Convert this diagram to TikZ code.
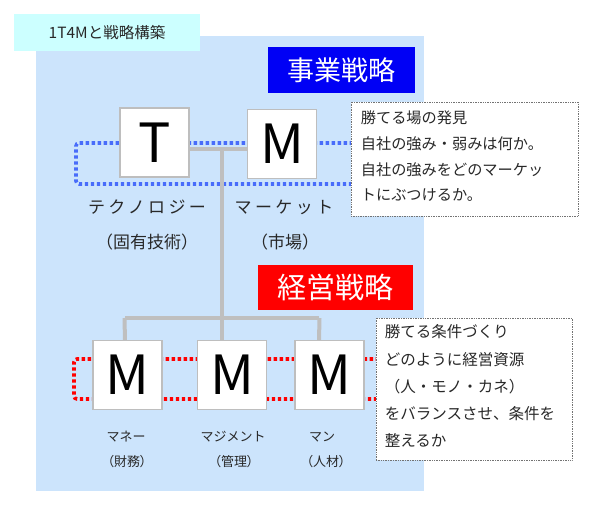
\documentclass[tikz,border=0pt]{standalone}
\usepackage{fontspec}
\setmainfont{Noto Sans CJK JP}
\definecolor{bgblue}{RGB}{204,228,252}
\definecolor{tagcyan}{RGB}{204,255,255}
\definecolor{hdblue}{RGB}{0,0,245}
\definecolor{hdred}{RGB}{255,0,0}
\definecolor{dotblue}{RGB}{72,108,250}
\definecolor{dotred}{RGB}{255,0,0}
\definecolor{conngray}{RGB}{191,191,191}
\definecolor{boxgray}{RGB}{190,190,190}
\definecolor{txtgray}{RGB}{40,40,40}
\tikzset{
  letterbox/.style={draw=boxgray, line width=1.2pt, fill=white, minimum width=69pt, minimum height=69pt, inner sep=0pt, font=\fontsize{54}{54}\selectfont},
  header/.style={inner sep=0pt, text=white, font=\fontsize{27}{27}\selectfont},
  loopline/.style={line width=3.6pt, dash pattern=on 3.3pt off 2.7pt, rounded corners=3pt},
  conn/.style={draw=conngray, line width=4pt},
  notebox/.style={draw=black!55, line width=0.7pt, densely dotted, fill=white, inner sep=0pt},
  notetext/.style={anchor=north west, align=left, inner sep=0pt, text=txtgray},
  biglabel/.style={text=txtgray, inner sep=0pt, font=\fontsize{17}{17}\selectfont},
  smalllabel/.style={text=txtgray, inner sep=0pt, font=\fontsize{13}{13}\selectfont}
}
\begin{document}
\begin{tikzpicture}[x=1pt,y=-1pt]
\useasboundingbox (0,0) rectangle (597,511);
% background
\fill[bgblue] (36,36) rectangle (424,491);
\node[fill=tagcyan, minimum width=186pt, minimum height=37pt, inner sep=0pt, text=txtgray, font=\fontsize{15.5}{15.5}\selectfont] (tag) at (107,32.5) {1T4Mと戦略構築};
% headers
\node[header, fill=hdblue, minimum width=147pt, minimum height=46pt] (biz) at (341.5,70) {事業戦略};
\node[header, fill=hdred, minimum width=155pt, minimum height=45pt, font=\fontsize{29}{29}\selectfont] (mgmt) at (335.5,287.5) {経営戦略};
% coordinates for loops
\coordinate (bl1) at (365,143);
\coordinate (bl2) at (76,143);
\coordinate (bl3) at (76,184);
\coordinate (bl4) at (365,184);
\coordinate (rl1) at (385,359);
\coordinate (rl2) at (74,359);
\coordinate (rl3) at (74,399);
\coordinate (rl4) at (385,399);
\draw[loopline, draw=dotblue] (bl1) -- (bl2) -- (bl3) -- (bl4);
\draw[loopline, draw=dotred] (rl1) -- (rl2) -- (rl3) -- (rl4);
% connectors
\coordinate (j1) at (222,149);
\coordinate (j2) at (222,318);
\coordinate (jl) at (125,318);
\coordinate (jr) at (319,318);
\draw[conn] (189,149) -- (247,149);
\draw[conn] (j1) -- (j2);
\draw[conn] (jl) -- (jr);
\draw[conn] ([xshift=-0.5pt]jl) -- (125,341);
\draw[conn] (j2) -- (222,341);
\draw[conn] ([xshift=0.5pt]jr) -- (319,341);
% letter boxes
\node[letterbox] (T) at (154.5,142.5) {T};
\node[letterbox] (Mk) at (282,144) {M};
\node[letterbox] (M1) at (127.5,375) {M};
\node[letterbox] (M2) at (232,375) {M};
\node[letterbox] (M3) at (329.5,375) {M};
% labels
\node[biglabel] (lt1) at (147,207) {\addfontfeature{LetterSpace=20}テクノロジー};
\node[biglabel] (lt2) at (147,242) {（固有技術）};
\node[biglabel] (lm1) at (284,207) {\addfontfeature{LetterSpace=20}マーケット};
\node[biglabel] (lm2) at (285,242) {（市場）};
\node[smalllabel] (lb1) at (126,437) {マネー};
\node[smalllabel] (lb2) at (127,462) {\addfontfeature{RawFeature=+palt}（財務）};
\node[smalllabel] (lb3) at (233,437) {マジメント};
\node[smalllabel] (lb4) at (234,462) {\addfontfeature{RawFeature=+palt}（管理）};
\node[smalllabel] (lb5) at (322,437) {マン};
\node[smalllabel] (lb6) at (326,462) {\addfontfeature{RawFeature=+palt}（人材）};
% note boxes
\node[notebox, minimum width=227pt, minimum height=114pt] (n1) at (464.5,159) {};
\node[notetext, font=\fontsize{15.2}{25.7}\selectfont] (n1t) at ([xshift=10pt,yshift=-9pt]n1.north west) {勝てる場の発見\\自社の強み・弱みは何か。\\自社の強みをどのマーケッ\\トにぶつけるか。};
\node[notebox, minimum width=196pt, minimum height=142pt] (n2) at (474,389) {};
\node[notetext, font=\fontsize{15.5}{27.2}\selectfont] (n2t) at ([xshift=9pt,yshift=-7pt]n2.north west) {勝てる条件づくり\\どのように経営資源\\（人・モノ・カネ）\\をバランスさせ、条件を\\整えるか};
\end{tikzpicture}
\end{document}
